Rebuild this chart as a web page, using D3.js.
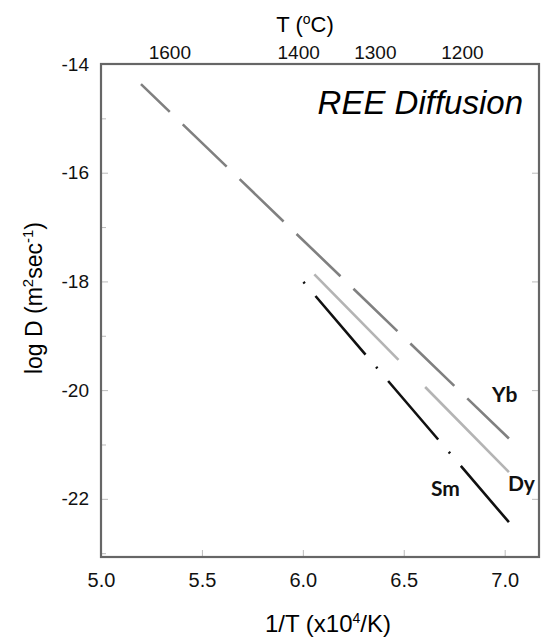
<!DOCTYPE html>
<html lang="en">
<head>
  <meta charset="UTF-8" />
  <title>REE Diffusion</title>
  <script src="https://d3js.org/d3.v7.min.js"></script>
  <style>
    body { margin: 0; background: #fff; }
    svg { display: block; font-family: 'Liberation Sans', Arial, sans-serif; }
    .tick text { fill: #111; }
    .tick line { stroke: #bbb; stroke-width: 1px; }
    .lbl { font-family: Lato, 'DejaVu Sans', sans-serif; font-weight: 700; font-size: 21px; fill: #111; }
  </style>
</head>
<body>
  <svg id="chart" width="542" height="637"></svg>

  <script>
    // axis ranges and ticks
    const xDomain = [5.0, 7.17];
    const yDomain = [-14, -23.07];
    const xTicks = [5.0, 5.5, 6.0, 6.5, 7.0];
    const yTicks = [-14, -16, -18, -20, -22];
    const yMinor = [-15, -17, -19, -21, -23];
    const tempTicks = [1600, 1400, 1300, 1200];

    // Arrhenius lines, 1/T (x10^4/K) vs log D
    const elements = ["Yb", "Dy", "Sm"];
    const ybX = [5.198, 7.021], ybY = [-14.37, -20.89];
    const dyX = [6.057, 7.021], dyY = [-17.87, -21.51];
    const smX = [6.003, 7.021], smY = [-18.01, -22.43];
    const labelX = [6.937, 7.016, 6.635];
    const labelY = [-20.22, -21.86, -21.94];

    const svg = d3.select("#chart");
    const m = { left: 101, right: 539, top: 64, bottom: 557 };

    const x = d3.scaleLinear().domain(xDomain).range([m.left, m.right]);
    const y = d3.scaleLinear().domain(yDomain).range([m.top, m.bottom]);

    // bottom axis
    svg.append("g")
      .attr("transform", `translate(0,${m.bottom})`)
      .call(d3.axisBottom(x).tickValues(xTicks).tickFormat(d3.format(".1f"))
        .tickSizeInner(-7).tickSizeOuter(0).tickPadding(16))
      .call(g => g.select(".domain").remove())
      .call(g => g.selectAll("text").attr("font-size", 20));

    // left axis, major + minor
    svg.append("g")
      .attr("transform", `translate(${m.left},0)`)
      .call(d3.axisLeft(y).tickValues(yTicks).tickFormat(d => String(d))
        .tickSizeInner(-7).tickSizeOuter(0).tickPadding(12))
      .call(g => g.select(".domain").remove())
      .call(g => g.selectAll("text").attr("font-size", 19));
    svg.append("g")
      .attr("transform", `translate(${m.left},0)`)
      .call(d3.axisLeft(y).tickValues(yMinor).tickFormat("").tickSizeInner(-5).tickSizeOuter(0))
      .call(g => g.select(".domain").remove());

    // right axis ticks
    svg.append("g")
      .attr("transform", `translate(${m.right},0)`)
      .call(d3.axisRight(y).tickValues(yTicks).tickFormat("").tickSizeInner(-7).tickSizeOuter(0))
      .call(g => g.select(".domain").remove());

    // top axis: temperature in C
    const invT = t => 1e4 / (t + 273.15);
    svg.append("g")
      .attr("transform", `translate(0,${m.top})`)
      .call(d3.axisTop(x).tickValues(tempTicks.map(invT))
        .tickFormat((d, i) => tempTicks[i]).tickSize(0).tickPadding(5))
      .call(g => g.select(".domain").remove())
      .call(g => g.selectAll("text").attr("font-size", 19));

    // frame
    svg.append("rect")
      .attr("x", m.left).attr("y", m.top)
      .attr("width", m.right - m.left).attr("height", m.bottom - m.top)
      .attr("fill", "none").attr("stroke", "#666").attr("stroke-width", 2.2);

    // lines
    const line = d3.line().x(d => x(d[0])).y(d => y(d[1]));
    const styles = {
      Yb: { pts: d3.zip(ybX, ybY), color: "#808080", dash: "61,18", offset: 21 },
      Dy: { pts: d3.zip(dyX, dyY), color: "#b4b4b4", dash: "120,38", offset: 0 },
      Sm: { pts: d3.zip(smX, smY), color: "#111", dash: "2,16.5,77,16.3", offset: 0 }
    };
    elements.forEach((el, i) => {
      const s = styles[el];
      svg.append("path")
        .attr("d", line(s.pts))
        .attr("fill", "none")
        .attr("stroke", s.color)
        .attr("stroke-width", 2.6)
        .attr("stroke-dasharray", s.dash)
        .attr("stroke-dashoffset", s.offset);
      svg.append("text")
        .attr("class", "lbl")
        .attr("x", x(labelX[i]))
        .attr("y", y(labelY[i]))
        .text(el);
    });

    // titles
    svg.append("text")
      .attr("x", 523).attr("y", 114)
      .attr("text-anchor", "end")
      .attr("font-size", 33).attr("font-style", "italic")
      .text("REE Diffusion");

    svg.append("text")
      .attr("x", 328).attr("y", 632)
      .attr("text-anchor", "middle").attr("font-size", 24)
      .html('1/T (x10<tspan dy="-9" font-size="14">4</tspan><tspan dy="9">/K)</tspan>');

    svg.append("text")
      .attr("x", 305).attr("y", 32)
      .attr("text-anchor", "middle").attr("font-size", 22)
      .html('T (<tspan dy="-8" font-size="14">o</tspan><tspan dy="8">C)</tspan>');

    svg.append("text")
      .attr("transform", "translate(42,298) rotate(-90)")
      .attr("text-anchor", "middle").attr("font-size", 23)
      .html('log D (m<tspan dy="-9" font-size="15">2</tspan><tspan dy="9">sec</tspan><tspan dy="-9" font-size="15">-1</tspan><tspan dy="9">)</tspan>');
  </script>
</body>
</html>
